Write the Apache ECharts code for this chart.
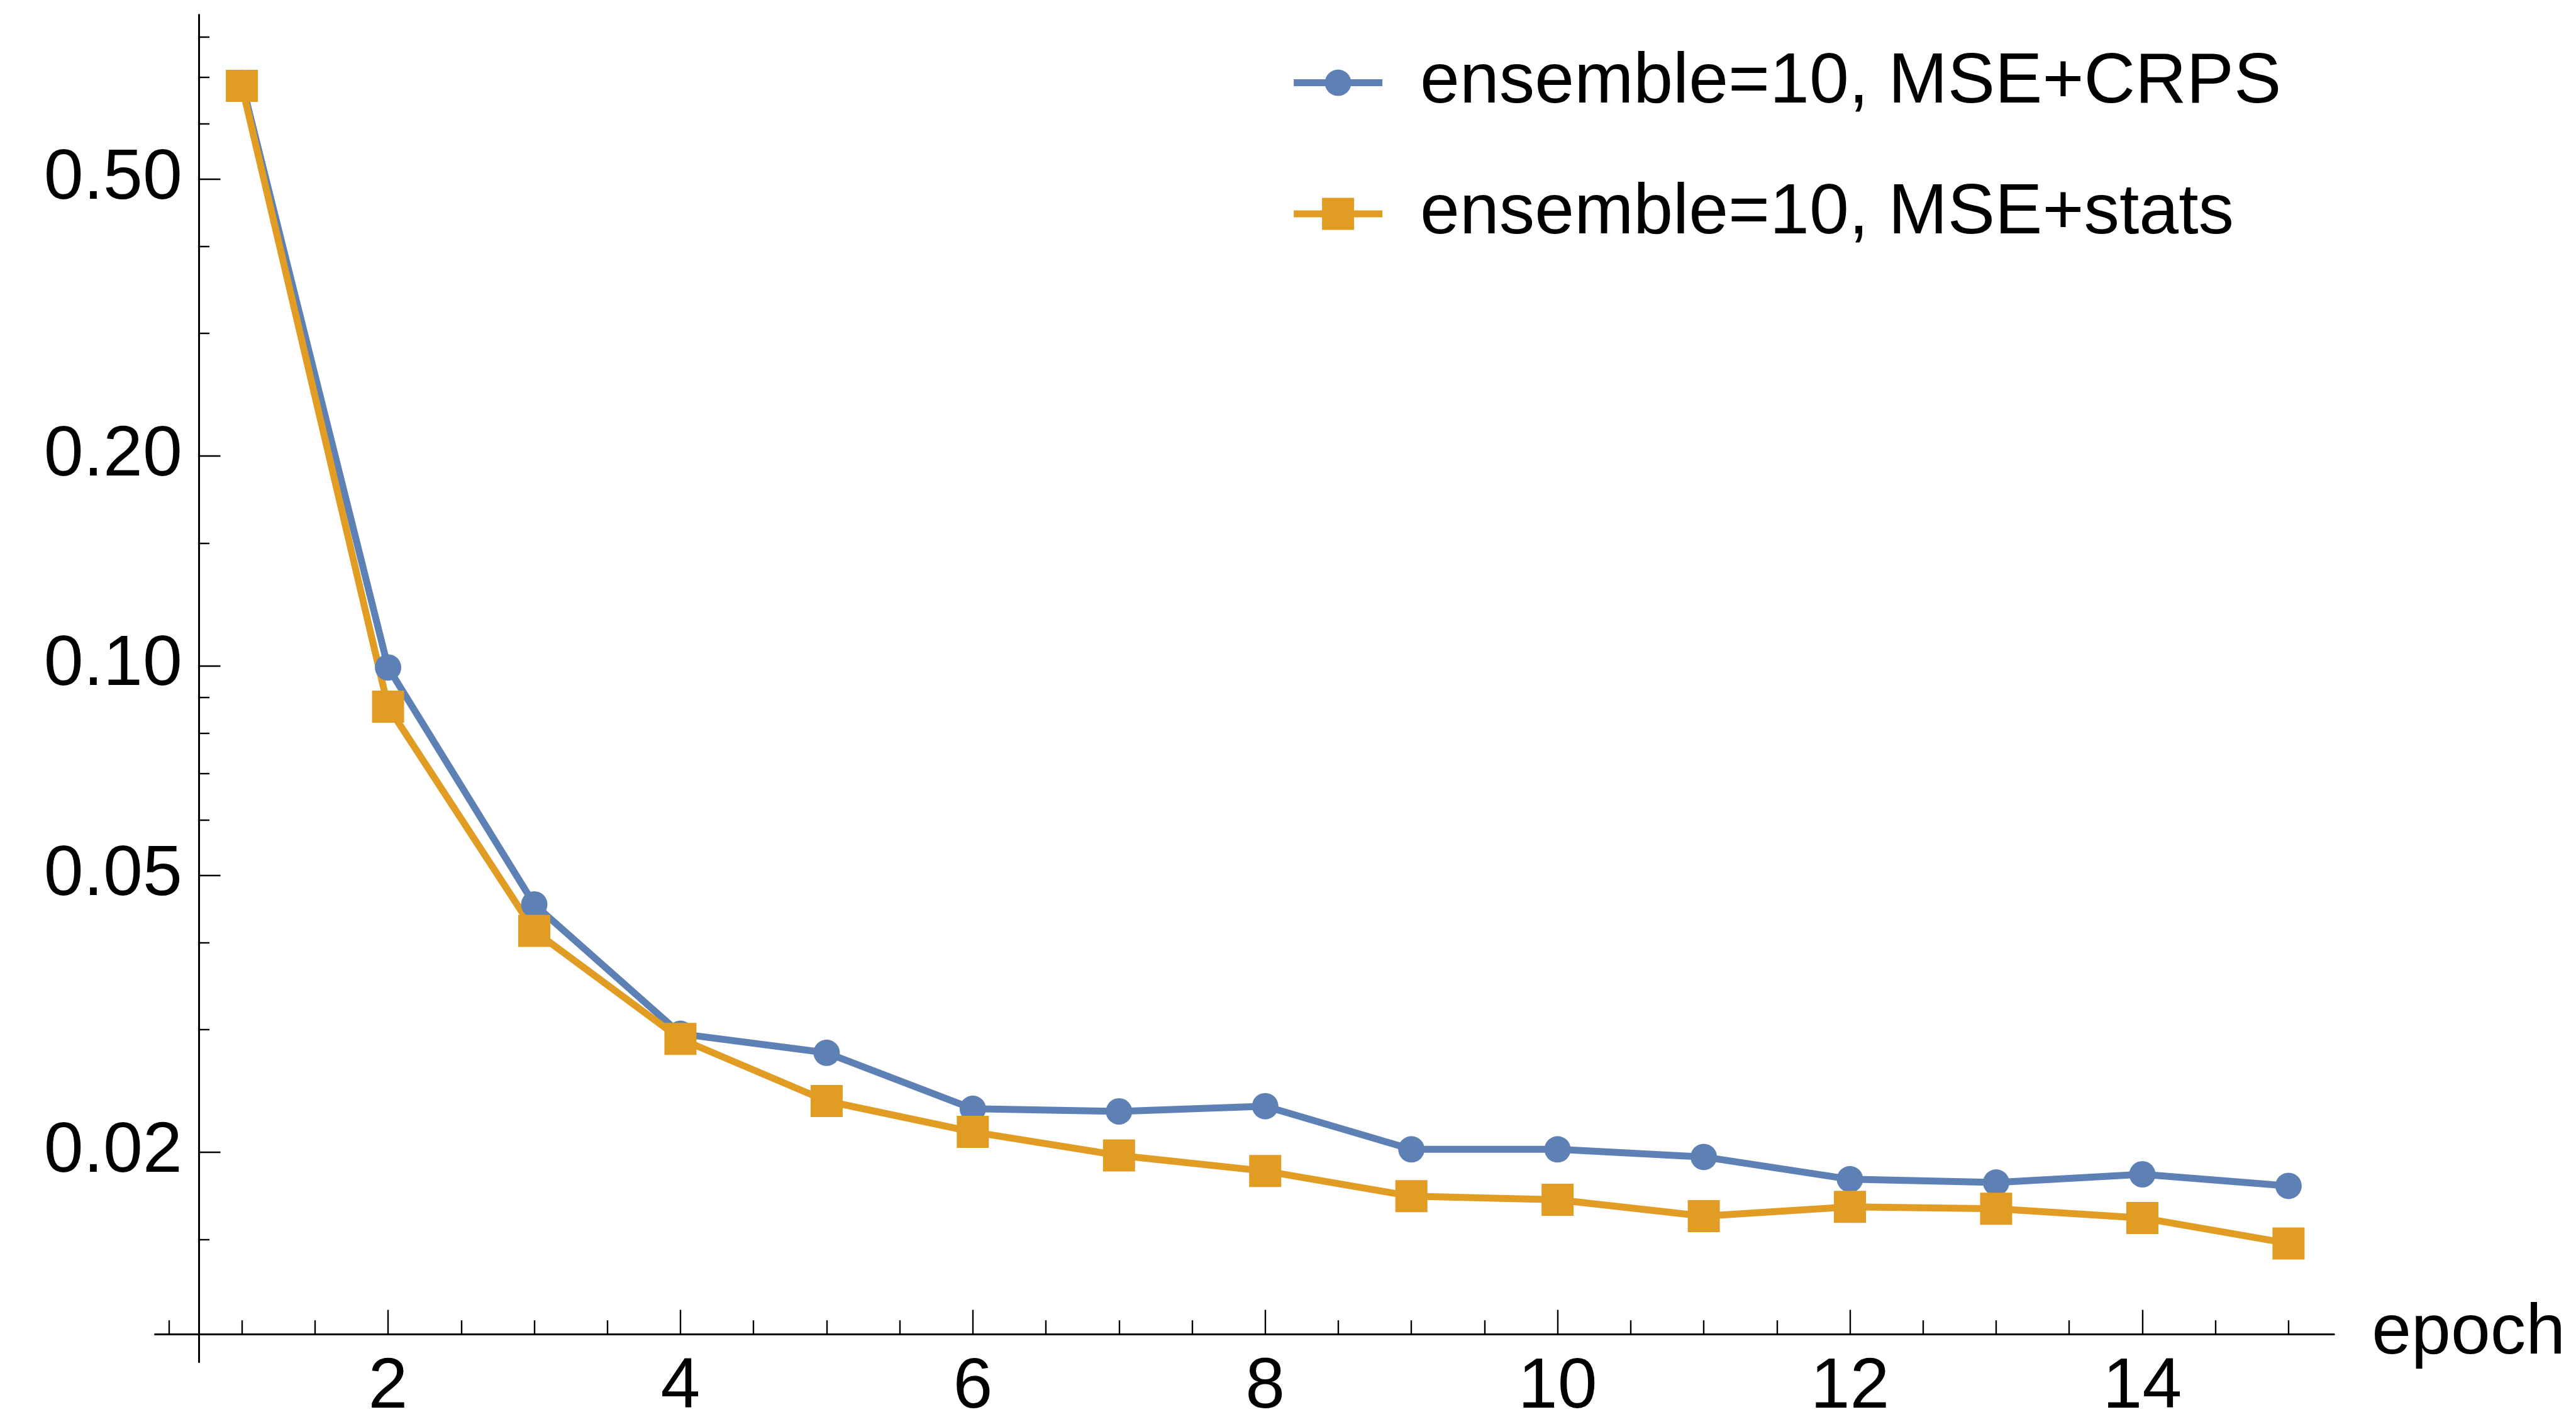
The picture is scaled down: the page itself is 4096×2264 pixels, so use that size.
<!DOCTYPE html>
<html>
<head>
<meta charset="utf-8">
<script src="https://cdn.jsdelivr.net/npm/echarts@6/dist/echarts.min.js"></script>
<style>
  html, body { margin: 0; padding: 0; background: #ffffff; }
  #chart { width: 4096px; height: 2264px; }
</style>
</head>
<body>
<div id="chart"></div>
<script>
// Training loss per epoch (log scale) for two ensemble set-ups
const epochs = [1, 2, 3, 4, 5, 6, 7, 8, 9, 10, 11, 12, 13, 14, 15];
const crpsLoss = [0.687, 0.0994, 0.0454, 0.0296, 0.0278, 0.0231, 0.0229, 0.0233, 0.0202, 0.0202, 0.0197, 0.0183, 0.0181, 0.0186, 0.0179];
const statsLoss = [0.680, 0.0873, 0.0416, 0.0291, 0.0237, 0.0214, 0.0198, 0.0188, 0.0173, 0.0171, 0.0162, 0.0167, 0.0166, 0.0161, 0.0148];
const seriesNames = ['ensemble=10, MSE+CRPS', 'ensemble=10, MSE+stats'];
const seriesColors = ['#5E81B5', '#E19C24'];

// Axis ticks
const xMajorTicks = [2, 4, 6, 8, 10, 12, 14];
const xMinorTicks = [0.5, 1, 1.5, 2.5, 3, 3.5, 4.5, 5, 5.5, 6.5, 7, 7.5, 8.5, 9, 9.5, 10.5, 11, 11.5, 12.5, 13, 13.5, 14.5, 15];
const yMajorTicks = [0.02, 0.05, 0.1, 0.2, 0.5];
const yMinorTicks = [0.015, 0.03, 0.04, 0.06, 0.07, 0.08, 0.09, 0.15, 0.3, 0.4, 0.6, 0.7, 0.8];

const FONT = "'Liberation Sans', Arial, Helvetica, sans-serif";
const FONT_SIZE = 113;
const AXIS_COLOR = '#000000';

const X_MIN = 0.406, X_MAX = 15.311;
const Y_MIN = 0.01, Y_MAX = 0.8601;
const X_OFFSET = -44.3;   // x axis sits slightly above the bottom of the y axis
const Y_OFFSET = -69.3;   // y axis crosses the x axis to the right of its start

const chart = echarts.init(document.getElementById('chart'), null, { renderer: 'canvas' });

function xAxisDef(major) {
  return {
    type: 'value', gridIndex: 0, position: 'bottom', offset: X_OFFSET,
    min: X_MIN, max: X_MAX,
    name: major ? 'epoch' : '',
    nameLocation: 'end', nameGap: 60,
    nameTextStyle: { fontFamily: FONT, fontSize: FONT_SIZE, color: AXIS_COLOR, verticalAlign: 'middle', padding: [0, 0, 11, 0] },
    axisLine: { show: major, onZero: false, lineStyle: { color: AXIS_COLOR, width: 3 } },
    axisTick: { show: true, inside: true, length: major ? 38.6 : 22, customValues: major ? xMajorTicks : xMinorTicks,
                lineStyle: { color: AXIS_COLOR, width: 2.4 } },
    axisLabel: { show: major, customValues: xMajorTicks, margin: 29, fontFamily: FONT, fontSize: FONT_SIZE, color: AXIS_COLOR,
                 formatter: v => String(Math.round(v)) },
    splitLine: { show: false }
  };
}

function yAxisDef(major) {
  return {
    type: 'log', logBase: 10, gridIndex: 0, position: 'left', offset: Y_OFFSET,
    min: Y_MIN, max: Y_MAX,
    axisLine: { show: major, lineStyle: { color: AXIS_COLOR, width: 3 } },
    axisTick: { show: true, inside: true, length: major ? 34.7 : 17.3, customValues: major ? yMajorTicks : yMinorTicks,
                lineStyle: { color: AXIS_COLOR, width: 2.4 } },
    axisLabel: { show: major, customValues: yMajorTicks, margin: 26, fontFamily: FONT, fontSize: FONT_SIZE, color: AXIS_COLOR,
                 formatter: v => Number(v).toFixed(2) },
    splitLine: { show: false },
    minorTick: { show: false }
  };
}

function legendDef(idx, top, itemHeight) {
  return {
    data: [{ name: seriesNames[idx] }],
    orient: 'horizontal', left: 2051.6, top: top, padding: 0,
    itemWidth: 141, itemHeight: itemHeight, selectedMode: false,
    lineStyle: { width: 11 },
    textStyle: { fontFamily: FONT, fontSize: FONT_SIZE, color: '#000000', lineHeight: FONT_SIZE, padding: [0, 0, 34, 55] }
  };
}

const option = {
  backgroundColor: '#ffffff',
  animation: false,
  grid: { left: 246.5, right: 384.8, top: 23.6, bottom: 98.6, containLabel: false },
  xAxis: [xAxisDef(true), xAxisDef(false)],
  yAxis: [yAxisDef(true), yAxisDef(false)],
  legend: [legendDef(0, 58.1, 52.5), legendDef(1, 266.5, 63.75)],
  series: [
    {
      name: seriesNames[0], type: 'line', xAxisIndex: 0, yAxisIndex: 0,
      data: epochs.map((e, i) => [e, crpsLoss[i]]),
      symbol: 'circle', symbolSize: 42,
      lineStyle: { width: 11, color: seriesColors[0] },
      itemStyle: { color: seriesColors[0] },
      emphasis: { disabled: true }
    },
    {
      name: seriesNames[1], type: 'line', xAxisIndex: 0, yAxisIndex: 0,
      data: epochs.map((e, i) => [e, statsLoss[i]]),
      symbol: 'rect', symbolSize: 51,
      lineStyle: { width: 11, color: seriesColors[1] },
      itemStyle: { color: seriesColors[1] },
      emphasis: { disabled: true }
    }
  ]
};

chart.setOption(option);
</script>
</body>
</html>
